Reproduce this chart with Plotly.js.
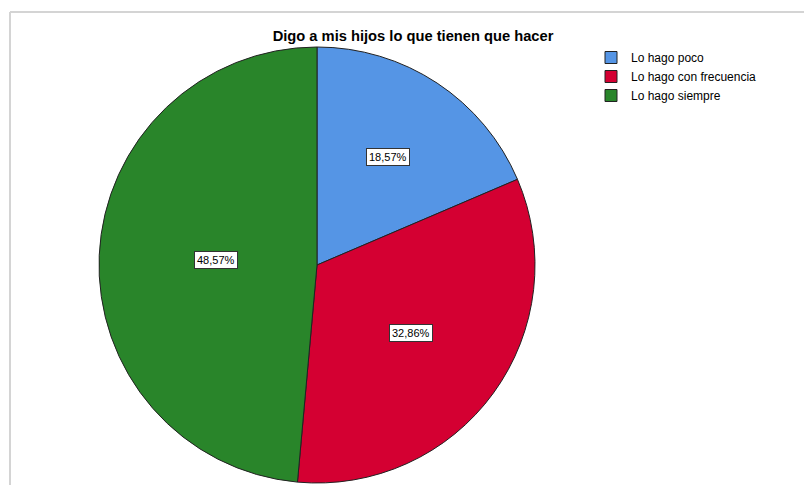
<!DOCTYPE html>
<html>
<head>
<meta charset="utf-8">
<script src="https://cdn.plot.ly/plotly-3.0.1.min.js"></script>
<style>html,body{margin:0;padding:0;background:#fff;}#chart{width:804px;height:485px;}</style>
</head>
<body>
<div id="chart"></div>
<script>
const categories = ["Lo hago poco", "Lo hago con frecuencia", "Lo hago siempre"];
const counts = [13, 23, 34];
const percentLabels = ["18,57%", "32,86%", "48,57%"];
const colors = ["#5595e5", "#d40032", "#29852a"];

const W = 804, H = 485;
const CX = 317, CY = 265, R = 218;

const total = counts.reduce((a, b) => a + b, 0);
const annotations = [];
let cum = 0;
counts.forEach((v, i) => {
  const frac = v / total;
  const mid = 2 * Math.PI * (cum + frac / 2); // clockwise from 12 o'clock
  const d = R * (0.675 - 0.437 * frac);       // label distance from centre
  const px = CX + d * Math.sin(mid);
  const py = CY - d * Math.cos(mid);
  annotations.push({
    x: px / W, y: 1 - py / H, xref: "paper", yref: "paper",
    xanchor: "center", yanchor: "middle",
    text: percentLabels[i], showarrow: false,
    font: {family: "Liberation Sans, Arial, sans-serif", size: 11, color: "#000"},
    bgcolor: "#ffffff", bordercolor: "#333333", borderwidth: 1, borderpad: 2
  });
  cum += frac;
});

const trace = {
  type: "pie",
  labels: categories,
  values: counts,
  sort: false,
  direction: "clockwise",
  rotation: 0,
  textinfo: "none",
  hoverinfo: "label+percent",
  marker: {colors: colors, line: {color: "#222222", width: 1}},
  domain: {x: [(CX - R) / W, (CX + R) / W], y: [1 - (CY + R) / H, 1 - (CY - R) / H]}
};

const layout = {
  width: W, height: H,
  margin: {l: 0, r: 0, t: 0, b: 0},
  paper_bgcolor: "#ffffff",
  font: {family: "Liberation Sans, Arial, sans-serif", color: "#000"},
  title: {
    text: "<b>Digo a mis hijos lo que tienen que hacer</b>",
    x: 413 / W, xanchor: "center", y: 1 - 36 / H, yanchor: "middle",
    font: {family: "Liberation Sans, Arial, sans-serif", size: 14.7, color: "#000"}
  },
  showlegend: true,
  legend: {
    x: 591 / W, xanchor: "left", y: 1 - 43 / H, yanchor: "top",
    font: {family: "Liberation Sans, Arial, sans-serif", size: 12, color: "#000"},
    bgcolor: "rgba(0,0,0,0)", itemwidth: 30, tracegroupgap: 0
  },
  annotations: annotations,
  shapes: [
    {type: "line", xref: "paper", yref: "paper", x0: 10 / W, x1: 1, y0: 1 - 12 / H, y1: 1 - 12 / H, line: {color: "#d4d4d4", width: 2}},
    {type: "line", xref: "paper", yref: "paper", x0: 10 / W, x1: 10 / W, y0: 0, y1: 1 - 12 / H, line: {color: "#d4d4d4", width: 2}}
  ]
};

Plotly.newPlot("chart", [trace], layout, {displayModeBar: false, staticPlot: true});
</script>
</body>
</html>
